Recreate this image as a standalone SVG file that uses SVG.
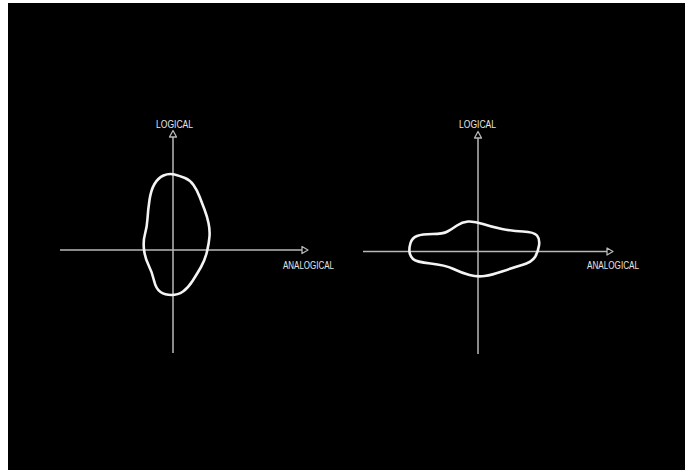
<svg xmlns="http://www.w3.org/2000/svg" width="685" height="470" viewBox="0 0 685 470">
  <style>
    .axis { stroke: #b8b8b8; stroke-width: 1.5; fill: none; }
    .head { stroke: #b8b8b8; stroke-width: 1.3; fill: none; stroke-linejoin: round; }
    .blob { stroke: #f4f4f4; stroke-width: 2.6; fill: none; stroke-linejoin: round; }
    .lbl { font-family: "Liberation Sans", "DejaVu Sans", sans-serif; font-size: 10px; fill: #e6e6e6; }
  </style>
  <rect x="0" y="0" width="685" height="470" fill="#ffffff"/>
  <rect x="8" y="3" width="677" height="467" fill="#000000"/>

  <g id="chart-left">
    <g id="axes-left">
      <line class="axis" x1="173" y1="137" x2="173" y2="353"/>
      <polygon class="head" points="173,130.5 169.5,137 176.5,137"/>
      <line class="axis" x1="60" y1="250" x2="302" y2="250"/>
      <polygon class="head" points="308,250 302,246.5 302,253.5"/>
    </g>
    <path id="blob-left" class="blob" d="M174.5,174.5 Q180,176 185,178 Q190,180 193.5,185 Q197,190 199.5,196.5 Q202,203 204.5,209.5 Q207,216 208.5,223 Q210,230 209.5,236.5 Q209,243 207,251.5 Q205,260 201,267 Q197,274 192.5,281 Q188,288 183,291.5 Q178,295 171.5,295 Q165,295 160.5,292 Q156,289 154,280.5 Q152,272 148.5,265 Q145,258 144,249.5 Q143,241 145,234 Q147,227 147.5,218.5 Q148,210 149.5,200 Q151,190 154.5,184 Q158,178 163.5,175.5 Q169,173 174.5,174.5 Z"/>
    <text class="lbl" x="156" y="127.5" textLength="37" lengthAdjust="spacingAndGlyphs">LOGICAL</text>
    <text class="lbl" x="283" y="268.5" textLength="51" lengthAdjust="spacingAndGlyphs">ANALOGICAL</text>
  </g>

  <g id="chart-right">
    <g id="axes-right">
      <line class="axis" x1="478" y1="138" x2="478" y2="354"/>
      <polygon class="head" points="478,131.5 474.5,138 481.5,138"/>
      <line class="axis" x1="363" y1="251.5" x2="607" y2="251.5"/>
      <polygon class="head" points="613,251.5 607,248 607,255"/>
    </g>
    <path id="blob-right" class="blob" d="M410.5,243 Q412,238 417,236 Q422,234 432.5,234 Q443,234 447.5,231.5 Q452,229 457,225.5 Q462,222 468,221.5 Q474,221 483,224 Q492,227 502,229 Q512,231 523,231.5 Q534,232 537,235.5 Q540,239 539,245.5 Q538,252 535,257 Q532,262 522,265 Q512,268 502,271.5 Q492,275 484.5,276 Q477,277 469.5,275 Q462,273 453.5,269 Q445,265 430.5,263.5 Q416,262 413,259 Q410,256 409.5,252 Q409,248 410.5,243 Z"/>
    <text class="lbl" x="459" y="128" textLength="37" lengthAdjust="spacingAndGlyphs">LOGICAL</text>
    <text class="lbl" x="587" y="269" textLength="52" lengthAdjust="spacingAndGlyphs">ANALOGICAL</text>
  </g>
</svg>
